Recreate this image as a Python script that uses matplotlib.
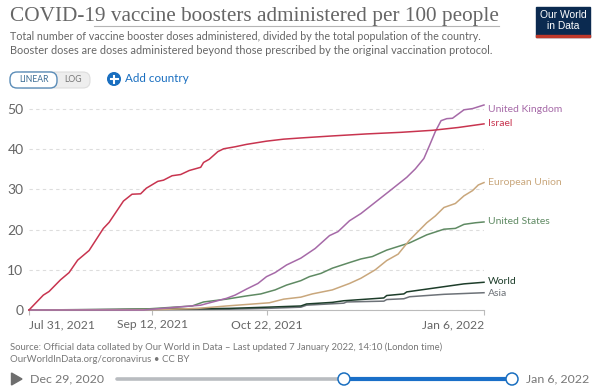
import matplotlib
matplotlib.use("Agg")
import matplotlib.pyplot as plt
from matplotlib.patches import Circle, FancyBboxPatch, Polygon, Rectangle
import pandas as pd

start = pd.Timestamp("2021-07-31")

israel_d = [0, 5, 7, 11, 14, 17, 21, 26, 28, 33, 36, 39, 41, 45, 47, 50, 53, 56, 60, 61, 63, 66, 68, 72, 76, 83, 89, 95, 106, 118, 130, 141, 150, 159]
israel_v = [0, 3.7, 4.6, 7.5, 9.3, 12.4, 14.8, 20.3, 21.8, 27.1, 28.8, 28.9, 30.3, 32, 32.3, 33.4, 33.7, 34.7, 35.5, 36.7, 37.5, 39.4, 40.1, 40.6, 41.2, 42, 42.5, 42.8, 43.3, 43.8, 44.2, 44.7, 45.4, 46.3]

uk_d = [0, 40, 60, 69, 72, 76, 80, 83, 86, 90, 95, 100, 105, 108, 112, 116, 121, 126, 129, 132, 135, 138, 140, 142, 144, 146, 148, 152, 155, 159]
uk_v = [0, 0, 1.2, 2.9, 3.7, 5.2, 6.6, 8.3, 9.3, 11.2, 12.9, 15.3, 18.5, 19.5, 22.2, 24, 26.8, 29.6, 31.3, 33, 35.1, 37.7, 41, 44.4, 47.1, 47.6, 47.7, 49.8, 50.1, 51]

eu_d = [0, 45, 59, 69, 84, 89, 95, 99, 106, 112, 116, 121, 125, 129, 133, 139, 142, 145, 149, 152, 155, 157, 159]
eu_v = [0, 0.1, 0.4, 1, 1.8, 2.7, 3.2, 4, 5, 6.6, 7.9, 10, 12.3, 13.9, 17.4, 21.7, 23.4, 25.5, 26.5, 28.4, 29.7, 31.1, 31.7]

us_d = [0, 30, 42, 57, 61, 69, 76, 81, 86, 90, 95, 98, 102, 106, 112, 116, 120, 125, 133, 139, 145, 149, 152, 156, 159]
us_v = [0, 0.1, 0.3, 1, 2, 2.7, 3.5, 4, 5, 6.2, 7.3, 8.3, 9.1, 10.4, 11.8, 12.7, 13.3, 14.9, 16.7, 18.7, 20.1, 20.3, 21.3, 21.7, 21.9]

world_d = [0, 40, 70, 83, 95, 97, 106, 110, 124, 125, 131, 132, 145, 152, 159]
world_v = [0, 0.2, 0.4, 0.7, 1, 1.5, 1.9, 2.3, 3, 3.6, 4, 4.5, 5.8, 6.5, 6.9]

asia_d = [0, 40, 70, 83, 95, 97, 110, 111, 124, 125, 131, 133, 145, 152, 159]
asia_v = [0, 0.1, 0.2, 0.4, 0.7, 1.2, 1.7, 2, 2.2, 2.6, 2.8, 3.3, 3.9, 4.1, 4.3]

y_ticks = [0, 10, 20, 30, 40, 50]
x_ticks = ["2021-07-31", "2021-09-12", "2021-10-22", "2022-01-06"]
x_labels = ["Jul 31, 2021", "Sep 12, 2021", "Oct 22, 2021", "Jan 6, 2022"]

# name, days, values, colour, label y in data units
series = [
    ("Asia", asia_d, asia_v, "#6d7278", 4.0),
    ("World", world_d, world_v, "#1d3d2a", 7.2),
    ("United States", us_d, us_v, "#5f8a63", 22.1),
    ("European Union", eu_d, eu_v, "#c9a77c", 31.8),
    ("United Kingdom", uk_d, uk_v, "#a66aa8", 49.8),
    ("Israel", israel_d, israel_v, "#c8344f", 46.4),
]

plt.rcParams["font.family"] = ["Lato", "DejaVu Sans"]
fig = plt.figure(figsize=(6, 3.9), dpi=100)

# page furniture in pixel coordinates
bg = fig.add_axes([0, 0, 1, 1])
bg.set_xlim(0, 600)
bg.set_ylim(390, 0)
bg.axis("off")

bg.text(10, 17, "COVID-19 vaccine boosters administered per 100 people", family="Liberation Serif",
        fontsize=15.3, color="#666666", va="center")
bg.plot([94, 499], [26, 26], color="#b5b5b5", lw=0.8)
bg.text(10, 37, "Total number of vaccine booster doses administered, divided by the total population of the country.",
        fontsize=7.75, color="#666666", va="center")
bg.text(10, 50, "Booster doses are doses administered beyond those prescribed by the original vaccination protocol.",
        fontsize=7.9, color="#666666", va="center")

# logo
bg.add_patch(Rectangle((536, 7), 54, 30, color="#0b2a50"))
bg.add_patch(Rectangle((536, 35), 54, 2, color="#c0392b"))
bg.text(563, 15, "Our World", color="white", fontsize=7.4, ha="center", va="center", family="Liberation Sans")
bg.text(563, 26, "in Data", color="white", fontsize=7.4, ha="center", va="center", family="Liberation Sans")

# linear / log toggle and add country
bg.add_patch(FancyBboxPatch((17, 72), 73, 16, boxstyle="round,pad=0,rounding_size=7",
                            fc="#eeeeee", ec="#dddddd", lw=0.8))
bg.add_patch(FancyBboxPatch((10, 72), 47, 16, boxstyle="round,pad=0,rounding_size=7",
                            fc="white", ec="#5b8db8", lw=1))
bg.text(33.5, 80, "LINEAR", fontsize=6.2, color="#3f6f96", ha="center", va="center")
bg.text(73, 80, "LOG", fontsize=6.2, color="#777777", ha="center", va="center")
bg.add_patch(Circle((114, 79), 6.3, color="#1a6fc0"))
bg.plot([110.5, 117.5], [79, 79], color="white", lw=1.5)
bg.plot([114, 114], [75.5, 82.5], color="white", lw=1.5)
bg.text(125, 79, "Add country", fontsize=8.4, color="#1a6fc0", va="center")

# footer
bg.text(10, 347, "Source: Official data collated by Our World in Data – Last updated 7 January 2022, 14:10 (London time)",
        fontsize=6.8, color="#777777", va="center")
bg.text(10, 359, "OurWorldInData.org/coronavirus • CC BY", fontsize=6.9, color="#777777", va="center")

# timeline slider
bg.add_patch(Polygon([(11.5, 373), (11.5, 385), (22, 379)], color="#6e6e6e"))
bg.text(30.5, 379, "Dec 29, 2020", fontsize=8.9, color="#777777", va="center")
bg.text(589, 379, "Jan 6, 2022", fontsize=8.9, color="#777777", va="center", ha="right")
bg.plot([117, 344], [379, 379], color="#b9bcc0", lw=2.6, solid_capstyle="round")
bg.plot([344, 512], [379, 379], color="#1a6fc8", lw=3, solid_capstyle="butt")
for hx in [344, 512]:
    bg.add_patch(Circle((hx, 379), 6, fc="white", ec="#1a6fc0", lw=1.1, zorder=5))

# main chart
ax = fig.add_axes([29 / 600, (390 - 310) / 390, (484 - 29) / 600, 210 / 390])
ax.patch.set_alpha(0)
for name, days, vals, col, label_y in series:
    dates = start + pd.to_timedelta(days, unit="D")
    ax.plot(dates, vals, color=col, lw=1.1, clip_on=False, zorder=3)
    ax.annotate(name, (dates[-1], label_y), xytext=(3, 0), textcoords="offset points",
                fontsize=7.5, color=col, va="center", annotation_clip=False)

ax.set_xlim(start, pd.Timestamp("2022-01-06"))
ax.set_ylim(0, 210 / 4.02)
ax.set_yticks(y_ticks)
ax.set_xticks(pd.to_datetime(x_ticks))
ax.set_xticklabels(x_labels)
ax.grid(axis="y", color="#dddddd", lw=0.8, ls=(0, (3, 3)))
ax.set_axisbelow(True)
for s in ["top", "right", "left"]:
    ax.spines[s].set_visible(False)
ax.spines["bottom"].set_color("#bbbbbb")
ax.tick_params(axis="y", length=0, pad=4, labelsize=10, labelcolor="#666666")
ax.tick_params(axis="x", length=3.5, color="#bbbbbb", pad=3, labelsize=8.7, labelcolor="#666666")
labels = ax.get_xticklabels()
labels[0].set_ha("left")
labels[-1].set_ha("right")

fig.savefig("out.png", dpi=100)
